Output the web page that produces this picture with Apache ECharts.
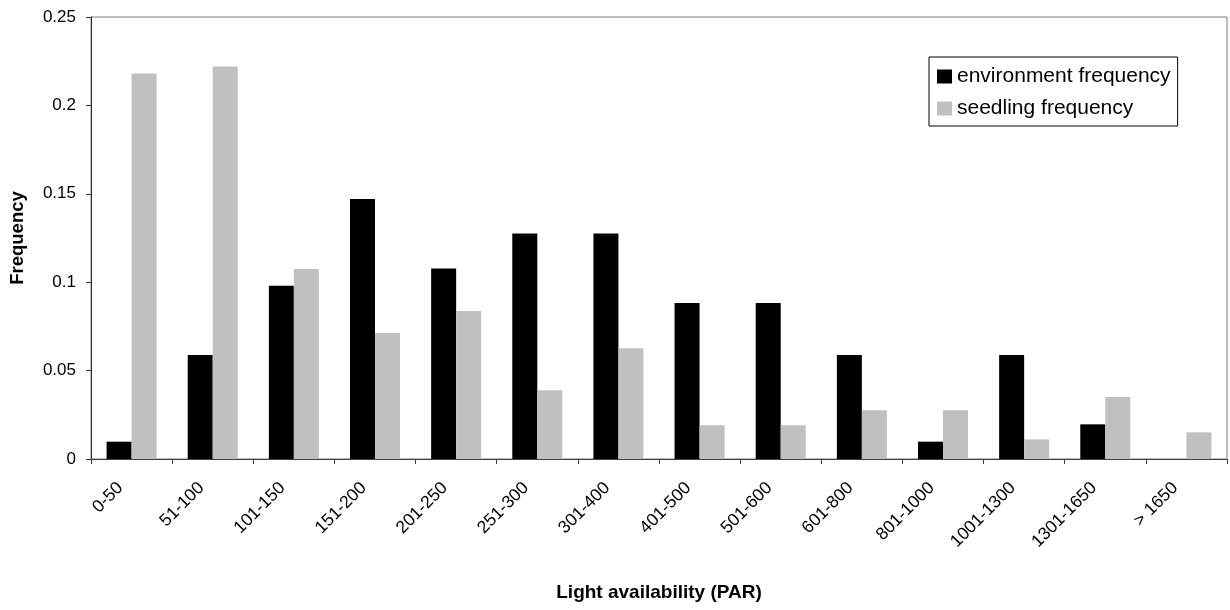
<!DOCTYPE html>
<html>
<head>
<meta charset="utf-8">
<script src="https://cdn.jsdelivr.net/npm/echarts@6/dist/echarts.min.js"></script>
<style>
html,body{margin:0;padding:0;background:#fff;}
#chart{width:1230px;height:610px;}
</style>
</head>
<body>
<div id="chart"></div>
<script>
var categories = ['0-50','51-100','101-150','151-200','201-250','251-300','301-400','401-500','501-600','601-800','801-1000','1001-1300','1301-1650','> 1650'];
var environmentFrequency = [0.0098, 0.0588, 0.0980, 0.1471, 0.1078, 0.1275, 0.1275, 0.0882, 0.0882, 0.0588, 0.0098, 0.0588, 0.0196, 0];
var seedlingFrequency = [0.218, 0.222, 0.1075, 0.0712, 0.0837, 0.0389, 0.0627, 0.0191, 0.0191, 0.0276, 0.0276, 0.0111, 0.035, 0.0151];
var seriesNames = ['environment frequency', 'seedling frequency'];
var yTicks = { min: 0, max: 0.25, interval: 0.05 };

var font = 'Liberation Sans, Arial, sans-serif';
var chart = echarts.init(document.getElementById('chart'), null, { renderer: 'canvas' });
chart.setOption({
  animation: false,
  backgroundColor: '#ffffff',
  textStyle: { fontFamily: font, color: '#000' },
  grid: {
    left: 91, top: 17, right: 3, bottom: 151,
    show: true, borderColor: '#7a7a7a', borderWidth: 1,
    containLabel: false, outerBoundsMode: 'none'
  },
  legend: {
    data: seriesNames,
    orient: 'vertical',
    left: 929, top: 57,
    padding: [9, 7, 7, 8],
    itemWidth: 15, itemHeight: 14, itemGap: 11,
    icon: 'rect',
    borderColor: '#000', borderWidth: 1,
    textStyle: { fontFamily: font, fontSize: 21, color: '#000' },
    selectedMode: false
  },
  xAxis: {
    type: 'category',
    data: categories,
    boundaryGap: true,
    name: 'Light availability (PAR)',
    nameLocation: 'middle',
    nameGap: 124,
    nameTextStyle: { fontFamily: font, fontSize: 19, fontWeight: 'bold', color: '#000' },
    axisLine: { lineStyle: { color: '#404040', width: 1 } },
    axisTick: { show: true, inside: false, length: 5, alignWithLabel: false, lineStyle: { color: '#404040' } },
    axisLabel: { rotate: 45, margin: 15, padding: [0, 16, 0, 0], fontFamily: font, fontSize: 17.5, color: '#000', interval: 0 },
    splitLine: { show: false }
  },
  yAxis: {
    type: 'value',
    min: yTicks.min, max: yTicks.max, interval: yTicks.interval,
    name: 'Frequency',
    nameLocation: 'middle',
    nameGap: 64,
    nameTextStyle: { fontFamily: font, fontSize: 18.5, fontWeight: 'bold', color: '#000' },
    axisLine: { show: true, lineStyle: { color: '#303030', width: 1 } },
    axisTick: { show: true, inside: false, length: 5, lineStyle: { color: '#303030' } },
    axisLabel: { margin: 15, fontFamily: font, fontSize: 17, color: '#000' },
    splitLine: { show: false }
  },
  series: [
    { name: seriesNames[0], type: 'bar', data: environmentFrequency, barWidth: 25, barGap: '0%',
      itemStyle: { color: '#000000' } },
    { name: seriesNames[1], type: 'bar', data: seedlingFrequency, barWidth: 25, barGap: '0%',
      itemStyle: { color: '#c0c0c0' } }
  ]
});
</script>
</body>
</html>
